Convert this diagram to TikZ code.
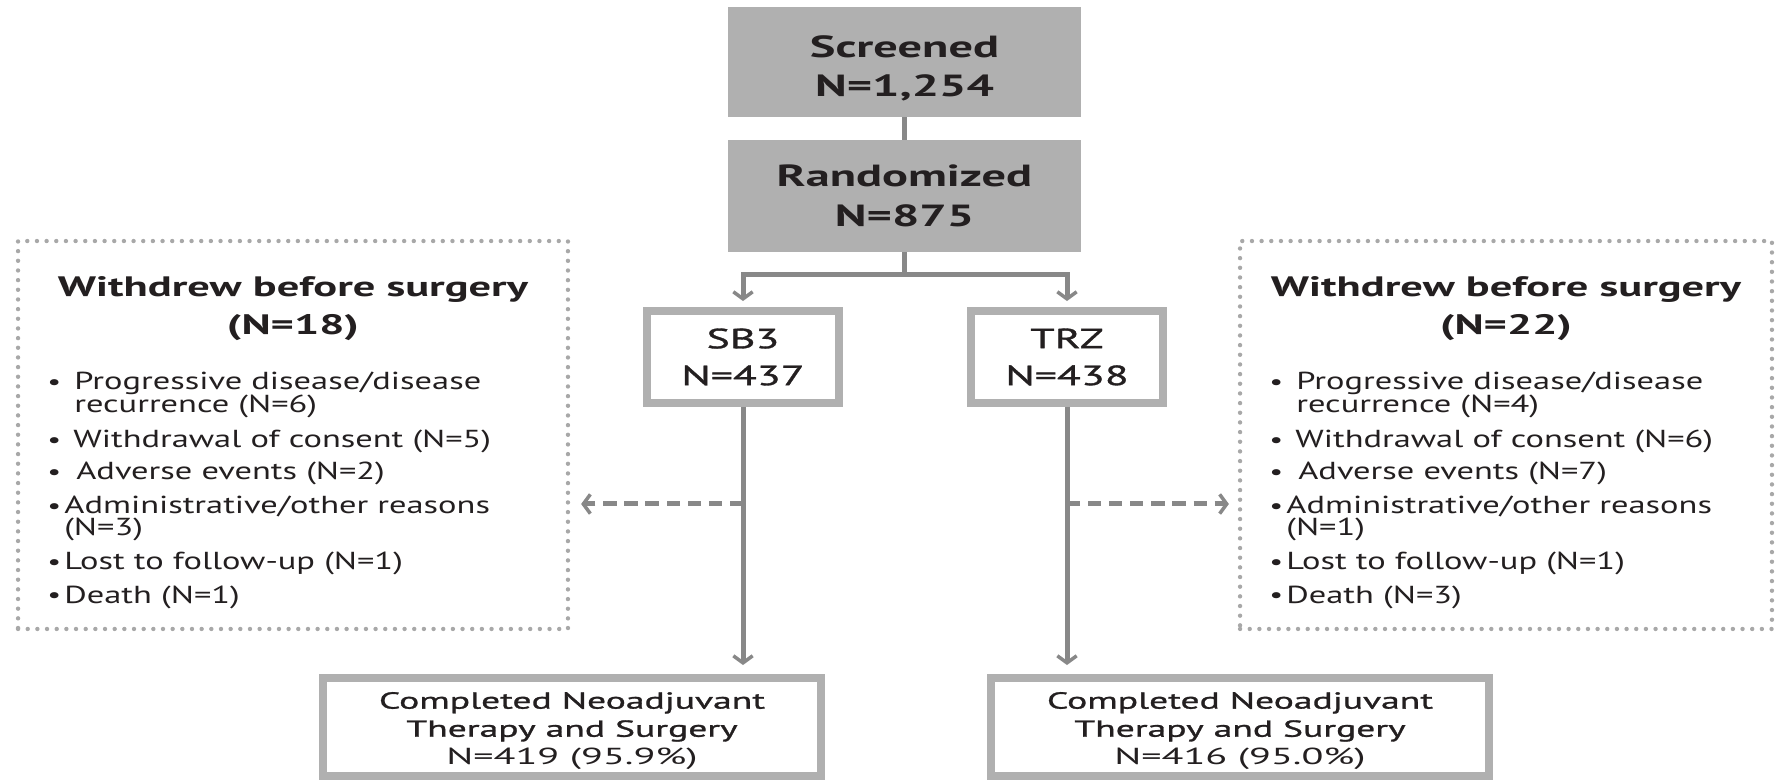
\documentclass[tikz,border=0pt]{standalone}
\usepackage{fontspec}
\setmainfont{PT Sans}
\newfontfamily\bigfont[FakeStretch=1.58]{PT Sans}
\newfontfamily\armfont[FakeStretch=1.58, FakeBold=1.2]{PT Sans}
\newfontfamily\itemfont[FakeStretch=1.40]{PT Sans}
\newfontfamily\donefont[FakeStretch=1.73]{PT Sans}
\newfontfamily\donebf[FakeStretch=1.62, FakeBold=1.2]{PT Sans}
\usepackage{tikz}
\usetikzlibrary{arrows.meta}
\definecolor{boxgray}{HTML}{B0B0B0}
\definecolor{linegray}{HTML}{888888}
\definecolor{dotgray}{HTML}{A8A8A8}
\definecolor{txt}{HTML}{231F20}
\newcommand{\bitem}[1]{\makebox[#1][l]{\raisebox{0.3pt}{\fontsize{12.5}{12.5}\selectfont\textbullet}}}

\begin{document}
\begin{tikzpicture}[x=0.02cm, y=-0.02cm]
    \tikzstyle{solidbox} = [fill=boxgray, inner sep=0, text=txt, align=center, minimum width=7.06cm, font=\bigfont\bfseries\fontsize{17.4}{22.4}\selectfont];
    \tikzstyle{armbox} = [draw=boxgray, line width=0.16cm, inner sep=0, text=txt, align=center, minimum width=3.84cm, minimum height=1.84cm, font=\armfont\fontsize{15.8}{21}\selectfont];
    \tikzstyle{donebox} = [draw=boxgray, line width=0.16cm, inner sep=0, text=txt, align=center, minimum width=9.96cm, minimum height=1.96cm, font=\donefont\fontsize{13.2}{16}\selectfont];
    \tikzstyle{dotbox} = [draw=dotgray, line width=2.5pt, dash pattern=on 0pt off 5.5pt, line cap=round, minimum height=7.76cm];
    \tikzstyle{title} = [anchor=north, inner sep=0, text=txt, align=center, font=\bigfont\bfseries\fontsize{16}{21.6}\selectfont];
    \tikzstyle{item} = [anchor=base west, inner sep=0, text=txt, font=\itemfont\fontsize{14}{16}\selectfont];
    \tikzstyle{conn} = [draw=linegray, line width=0.1cm];
    \tikzstyle{tip} = [-{Straight Barb[length=4pt, width=11pt, line width=2pt]}];

    \useasboundingbox (0, 0) rectangle (1776, 780);

    % top of the chart
    \node (scr) at (904.5,  62) [solidbox, minimum height=2.2cm] {\rule{0pt}{19.7pt}Screened\\N=1,254};
    \node (rnd) at (904.5, 196) [solidbox, minimum height=2.24cm] {Randomized\\N=875};

    % the two arms
    \node (sb3) at ( 743, 357) [armbox] {SB3\\N=437};
    \node (trz) at (1067, 357) [armbox] {TRZ\\N=438};

    \node (donel) at ( 572, 727) [donebox] {{\donebf\rule{0pt}{14pt}Completed Neoadjuvant}\\{\donebf Therapy and Surgery}\\N=419 (95.9\%)};
    \node (doner) at (1240, 727) [donebox] {{\donebf\rule{0pt}{14pt}Completed Neoadjuvant}\\{\donebf Therapy and Surgery}\\N=416 (95.0\%)};

    % withdrawals
    \node (wdl) at ( 293, 435) [dotbox, minimum width=11cm] {};
    \node (wdr) at (1506, 435) [dotbox, minimum width=10.64cm] {};
    \node (wdlt) at ( 293, 276) [title] {Withdrew before surgery\\(N=18)};
    \node (wdrt) at (1506, 276) [title] {Withdrew before surgery\\(N=22)};

    \node (l1)  at (47, 390) [item] {\bitem{15.4pt}Progressive disease/disease};
    \node (l1b) at (74, 413) [item] {recurrence (N=6)};
    \node (l2)  at (47, 448) [item] {\bitem{14.8pt}Withdrawal of consent (N=5)};
    \node (l3)  at (47, 480) [item] {\bitem{16.5pt}Adverse events (N=2)};
    \node (l4)  at (47, 514) [item] {\bitem{9.7pt}Administrative/other reasons};
    \node (l4b) at (64, 536) [item] {(N=3)};
    \node (l5)  at (47, 570) [item] {\bitem{9.7pt}Lost to follow-up (N=1)};
    \node (l6)  at (47, 603) [item] {\bitem{9.7pt}Death (N=1)};

    \node (r1)  at (1269, 390) [item] {\bitem{15.4pt}Progressive disease/disease};
    \node (r1b) at (1296, 413) [item] {recurrence (N=4)};
    \node (r2)  at (1269, 448) [item] {\bitem{14.8pt}Withdrawal of consent (N=6)};
    \node (r3)  at (1269, 480) [item] {\bitem{16.5pt}Adverse events (N=7)};
    \node (r4)  at (1269, 514) [item] {\bitem{9.7pt}Administrative/other reasons};
    \node (r4b) at (1286, 536) [item] {(N=1)};
    \node (r5)  at (1269, 570) [item] {\bitem{9.7pt}Lost to follow-up (N=1)};
    \node (r6)  at (1269, 603) [item] {\bitem{9.7pt}Death (N=3)};

    \coordinate (split) at (904.5, 275);
    \coordinate (sb3out) at ( 743, 504);
    \coordinate (trzout) at (1067, 504);

    \begin{scope}[conn]
      \draw (scr) -- (rnd);
      \draw (rnd) -- (split);
      \draw[tip, shorten >=0.12cm] (split) -| (sb3.north);
      \draw[tip, shorten >=0.12cm] (split) -| (trz.north);
      \draw[tip, shorten >=0.18cm] (sb3) -- (sb3 |- donel.north);
      \draw[tip, shorten >=0.18cm] (trz) -- (trz |- doner.north);
      \draw[tip, dash pattern=on 7.5pt off 4.5pt, shorten >=0.22cm] (sb3out) -- (sb3out -| wdl.east);
      \draw[tip, dash pattern=on 7.5pt off 4.5pt, shorten >=0.18cm] (trzout) -- (trzout -| wdr.west);
    \end{scope}
\end{tikzpicture}
\end{document}
